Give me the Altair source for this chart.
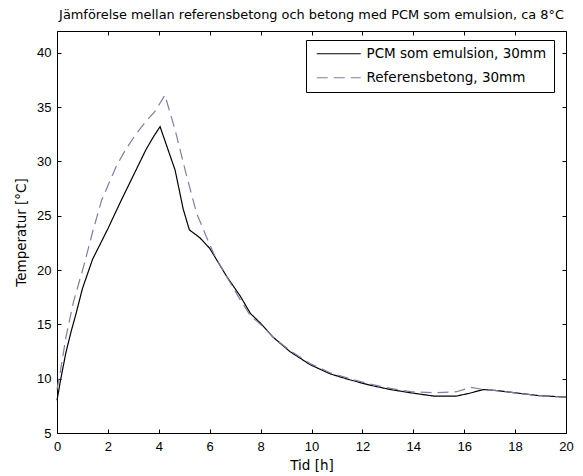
import altair as alt
import pandas as pd

# ---- data ----
series_names = ["PCM som emulsion, 30mm", "Referensbetong, 30mm"]

pcm_t = [0.0, 0.15, 0.35, 0.55, 0.75, 1.0, 1.4, 2.0, 2.5, 3.0, 3.5, 3.8, 4.05, 4.3, 4.64, 4.96,
         5.2, 5.6, 6.0, 6.67, 7.2, 7.6, 8.0, 8.5, 9.15, 9.94, 10.73, 11.5, 12.3, 13.1, 13.9,
         14.8, 15.7, 16.2, 16.75, 17.3, 18.0, 18.9, 20.0]
pcm_T = [8.0, 10.0, 12.4, 14.3, 16.0, 18.3, 21.0, 23.8, 26.3, 28.7, 31.1, 32.3, 33.2, 31.5,
         29.2, 25.6, 23.7, 23.0, 22.0, 19.4, 17.6, 16.0, 15.1, 13.8, 12.5, 11.3, 10.45, 9.9,
         9.4, 9.0, 8.7, 8.4, 8.4, 8.65, 9.0, 8.9, 8.7, 8.45, 8.3]

ref_t = [0.0, 0.12, 0.35, 0.64, 1.03, 1.4, 1.75, 2.34, 2.7, 3.13, 3.5, 3.85, 4.24, 4.64, 5.1,
         5.49, 5.88, 6.2, 6.54, 7.19, 7.6, 8.0, 8.5, 9.15, 9.94, 10.73, 11.5, 12.3, 13.1,
         13.9, 14.8, 15.7, 16.25, 16.75, 17.3, 18.0, 18.9, 20.0]
ref_T = [9.0, 10.5, 13.8, 17.0, 20.2, 23.5, 26.4, 29.6, 31.1, 32.6, 33.7, 34.6, 36.1, 32.9,
         28.6, 25.2, 23.0, 21.3, 19.9, 17.3, 15.8, 15.0, 13.8, 12.6, 11.4, 10.55, 10.0, 9.5,
         9.1, 8.8, 8.7, 8.8, 9.2, 9.0, 8.9, 8.7, 8.45, 8.3]

x_ticks = [0, 2, 4, 6, 8, 10, 12, 14, 16, 18, 20]
y_ticks = [5, 10, 15, 20, 25, 30, 35, 40]

title_text = "Jämförelse mellan referensbetong och betong med PCM som emulsion, ca 8°C"
x_title = "Tid [h]"
y_title = "Temperatur [°C]"

FONT = "Liberation Sans"
WIDE = "DejaVu Sans"

df = pd.concat([
    pd.DataFrame({"t": pcm_t, "T": pcm_T, "series": series_names[0], "o": range(len(pcm_t))}),
    pd.DataFrame({"t": ref_t, "T": ref_T, "series": series_names[1], "o": range(len(ref_t))}),
])

xscale = alt.Scale(domain=[0, 20], nice=False, zero=False)
yscale = alt.Scale(domain=[5, 42], nice=False, zero=False)

legend = alt.Legend(
    title=None, orient="none", legendX=249, legendY=9, padding=7,
    strokeColor="black", fillColor="white", cornerRadius=0,
    symbolType="M-0.6,0H8.2", symbolSize=100, symbolStrokeWidth=1.2,
    labelFont=WIDE, labelFontSize=13.5, labelColor="black", labelOffset=40,
    labelLimit=400, rowPadding=9,
)

lines = alt.Chart(df).mark_line(strokeWidth=1.2).encode(
    x=alt.X("t:Q", scale=xscale, title=x_title,
            axis=alt.Axis(values=x_ticks, orient="bottom", offset=-4, tickSize=4, domain=False,
                          grid=False, labelPadding=7, titlePadding=5, tickColor="black",
                          labelColor="black", titleColor="black", labelFont=FONT,
                          titleFont=WIDE, labelFontSize=13, titleFontSize=13.5,
                          titleFontWeight="normal", labelFlush=False)),
    y=alt.Y("T:Q", scale=yscale, title=y_title,
            axis=alt.Axis(values=y_ticks, orient="left", offset=-4, tickSize=4, domain=False,
                          grid=False, labelPadding=6, titlePadding=8, tickColor="black",
                          labelColor="black", titleColor="black", labelFont=FONT,
                          titleFont=WIDE, labelFontSize=13, titleFontSize=13.5,
                          titleFontWeight="normal")),
    color=alt.Color("series:N", scale=alt.Scale(domain=series_names, range=["#000000", "#7e7ea6"]),
                    legend=legend),
    strokeDash=alt.StrokeDash("series:N", scale=alt.Scale(domain=series_names, range=[[1, 0], [11, 6]]),
                              legend=legend),
    order="o:Q",
    detail="series:N",
)

mirror = alt.Chart(df).mark_point(opacity=0).encode(
    x=alt.X("t:Q", scale=xscale, title=None,
            axis=alt.Axis(values=x_ticks, orient="top", offset=-4, tickSize=4, domain=False,
                          grid=False, labels=False, tickColor="black")),
    y=alt.Y("T:Q", scale=yscale, title=None,
            axis=alt.Axis(values=y_ticks, orient="right", offset=-4, tickSize=4, domain=False,
                          grid=False, labels=False, tickColor="black")),
)

chart = alt.layer(lines, mirror).resolve_axis(x="independent", y="independent").properties(
    width=509, height=402,
    title=alt.TitleParams(title_text, font=WIDE, fontSize=12.9, fontWeight="normal", color="black",
                          anchor="middle", offset=12, dy=13, baseline="alphabetic", limit=0),
    autosize=alt.AutoSizeParams(type="none"),
    padding={"left": 57, "top": 31, "right": 17, "bottom": 43},
    background="white",
).configure_view(stroke="black", strokeWidth=1)

chart.save("out.html", embed_options={"renderer": "svg", "actions": False})
